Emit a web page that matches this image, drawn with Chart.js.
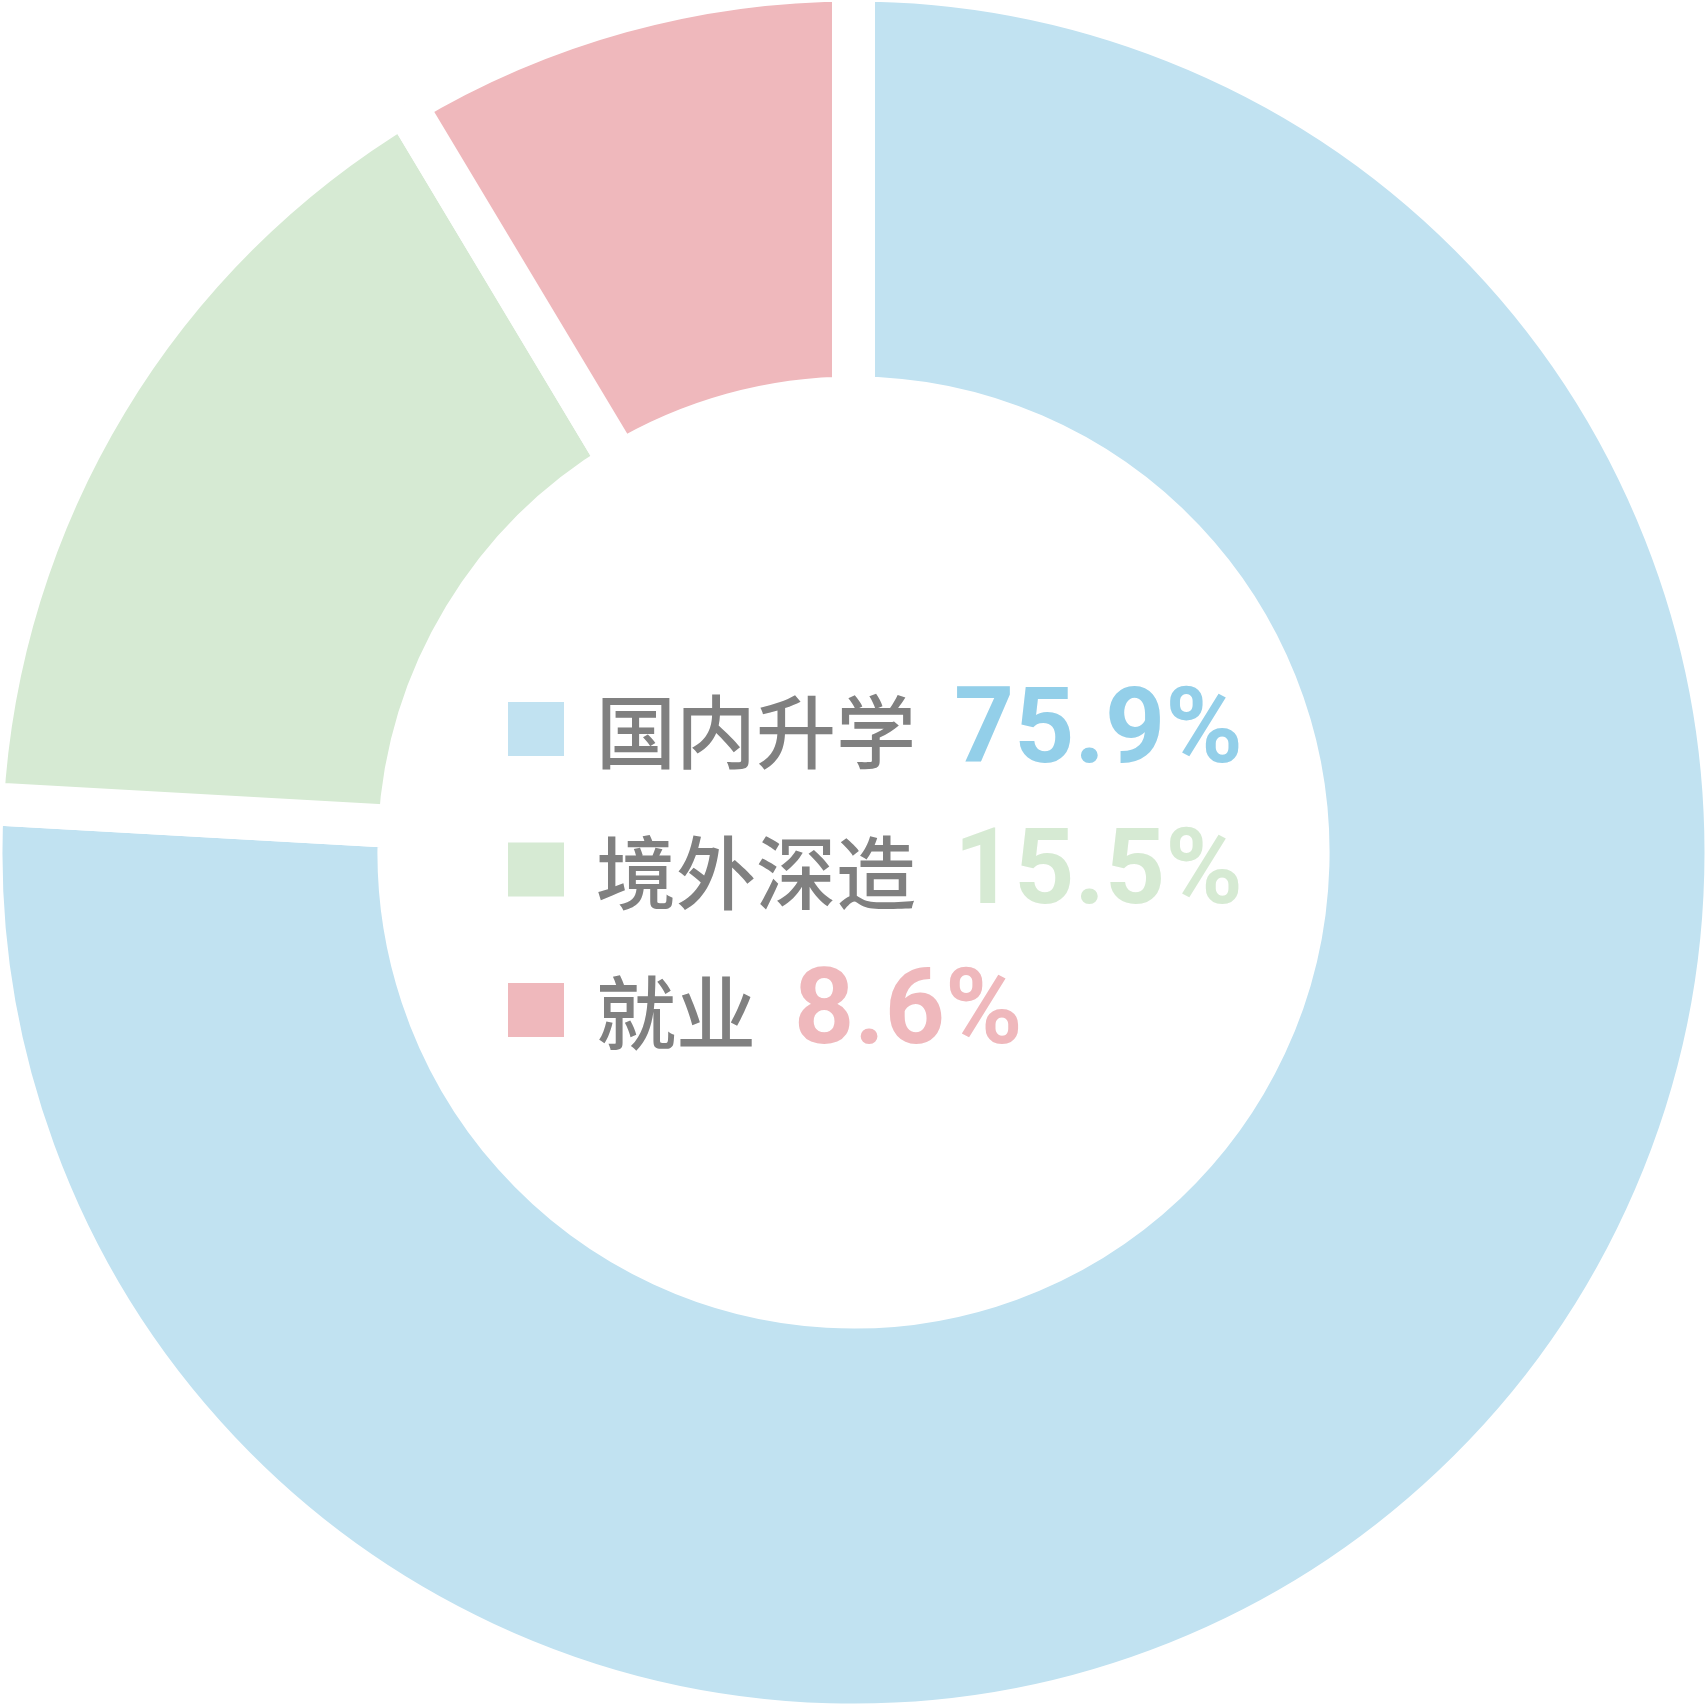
<!DOCTYPE html>
<html>
<head>
<meta charset="utf-8">
<script src="https://cdn.jsdelivr.net/npm/chart.js@4/dist/chart.umd.min.js"></script>
<style>
  html, body { margin: 0; padding: 0; background: #fff; }
  #wrap { width: 1707px; height: 1705px; position: relative; }
</style>
</head>
<body>
<div id="wrap"><canvas id="donut"></canvas></div>
<script>
const labels = ["国内升学", "境外深造", "就业"];
const shares = [75.9, 15.5, 8.6];
const ringColors = ["#c1e2f1", "#d6ead3", "#efb8bc"];
const numberColors = ["#93cfe9", "#d6ead3", "#efb8bc"];

// legend drawn in the hole
const centerLegend = {
  id: "centerLegend",
  afterDraw(chart) {
    const ctx = chart.ctx;
    ctx.save();
    ctx.textBaseline = "alphabetic";
    ctx.textAlign = "left";
    for (let i = 0; i < labels.length; i++) {
      const base = 762 + i * 140.5;
      ctx.fillStyle = ringColors[i];
      ctx.fillRect(508, base - 60, 56, 54);
      ctx.font = '500 80px "Noto Sans CJK SC"';
      ctx.fillStyle = "#808080";
      ctx.fillText(labels[i], 596, base);
      const w = ctx.measureText(labels[i]).width;
      ctx.font = 'bold 105px Roboto';
      ctx.fillStyle = numberColors[i];
      ctx.fillText(shares[i].toFixed(1) + "%", 596 + w + 38, base);
    }
    ctx.restore();
  }
};

function draw() {
  new Chart(document.getElementById("donut"), {
    type: "doughnut",
    data: {
      labels: labels,
      datasets: [{
        data: shares,
        backgroundColor: ringColors,
        borderColor: "#ffffff",
        borderWidth: 43,
        hoverOffset: 0
      }]
    },
    options: {
      responsive: true,
      maintainAspectRatio: false,
      animation: false,
      events: [],
      radius: 872.5,
      cutout: "52.1%",
      layout: { padding: 0 },
      plugins: {
        legend: { display: false },
        tooltip: { enabled: false }
      }
    },
    plugins: [centerLegend]
  });
}

Promise.all([
  document.fonts.load('500 80px "Noto Sans CJK SC"', "国内升学境外深造就业"),
  document.fonts.load('bold 105px Roboto', "0123456789.%")
]).then(draw, draw);
</script>
</body>
</html>
